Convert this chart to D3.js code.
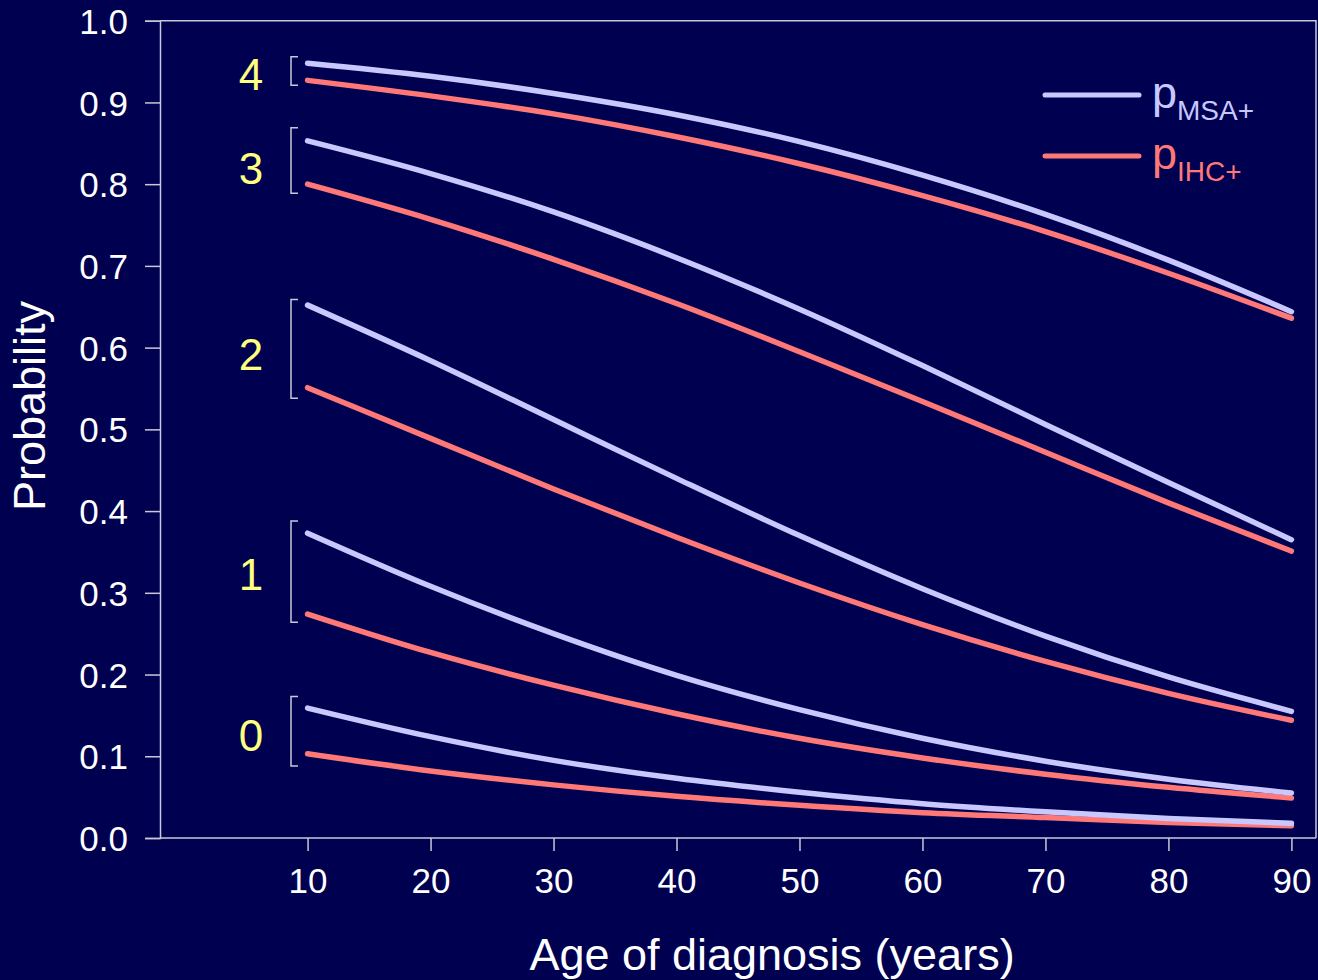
<!DOCTYPE html>
<html>
<head>
<meta charset="utf-8">
<script src="https://cdn.jsdelivr.net/npm/d3@7"></script>
<style>
  html, body { margin: 0; padding: 0; background: #000050; }
  svg { display: block; }
  text { font-family: Arial, "Liberation Sans", sans-serif; }
</style>
</head>
<body>
<svg id="chart" width="1318" height="980"></svg>
<script>
// ---- data ----
const ages = [10, 20, 30, 40, 50, 60, 70, 80, 90];
const groups = ["0", "1", "2", "3", "4"];
const msa0 = [0.159, 0.124, 0.095, 0.073, 0.056, 0.042, 0.032, 0.024, 0.018];
const ihc0 = [0.103, 0.082, 0.065, 0.051, 0.040, 0.031, 0.025, 0.019, 0.015];
const msa1 = [0.373, 0.308, 0.250, 0.199, 0.157, 0.122, 0.094, 0.072, 0.055];
const ihc1 = [0.274, 0.227, 0.187, 0.152, 0.122, 0.098, 0.078, 0.062, 0.049];
const msa2 = [0.652, 0.584, 0.512, 0.440, 0.370, 0.305, 0.247, 0.197, 0.155];
const ihc2 = [0.551, 0.489, 0.427, 0.368, 0.312, 0.261, 0.216, 0.177, 0.144];
const msa3 = [0.853, 0.813, 0.766, 0.710, 0.647, 0.578, 0.506, 0.435, 0.365];
const ihc3 = [0.800, 0.757, 0.708, 0.654, 0.595, 0.534, 0.472, 0.410, 0.351];
const msa4 = [0.948, 0.932, 0.911, 0.885, 0.852, 0.811, 0.763, 0.707, 0.644];
const ihc4 = [0.927, 0.908, 0.886, 0.858, 0.825, 0.786, 0.742, 0.691, 0.636];
const bracketTop = [0.173, 0.388, 0.659, 0.869, 0.956];
const bracketBottom = [0.088, 0.264, 0.538, 0.789, 0.921];
const groupLabelAt = [0.126, 0.323, 0.592, 0.820, 0.935];
const xTicks = [10, 20, 30, 40, 50, 60, 70, 80, 90];
const yTicks = [0, 0.1, 0.2, 0.3, 0.4, 0.5, 0.6, 0.7, 0.8, 0.9, 1.0];
const seriesNames = ["MSA+", "IHC+"];

const msaSeries = [msa0, msa1, msa2, msa3, msa4];
const ihcSeries = [ihc0, ihc1, ihc2, ihc3, ihc4];

// ---- styling ----
const colMSA = "#c8c8ff";
const colIHC = "#ff7878";
const colAxis = "#c8c8d8";
const colLabel = "#ffff80";

const svg = d3.select("#chart");
svg.append("rect").attr("width", 1318).attr("height", 980).attr("fill", "#000050");

const L = 160, R = 1316, T = 20.7, B = 838;
const x = d3.scaleLinear().domain([-2, 92]).range([L, R]);
const y = d3.scaleLinear().domain([0, 1]).range([B, T]);

// plot box (top & right)
svg.append("path")
  .attr("d", `M${L},${T}H${R}V${B}`)
  .attr("fill", "none").attr("stroke", colAxis).attr("stroke-width", 1.5);

// y axis
const yAxis = svg.append("g").attr("transform", `translate(${L},0)`)
  .call(d3.axisLeft(y).tickValues(yTicks).tickFormat(d3.format(".1f")).tickSize(15).tickPadding(17));
yAxis.select(".domain").attr("stroke", colAxis).attr("stroke-width", 1.5);
yAxis.selectAll(".tick line").attr("stroke", colAxis).attr("stroke-width", 1.5);
yAxis.selectAll(".tick text").attr("fill", "#ffffff").attr("font-size", 35)
  .attr("font-family", "Arial, 'Liberation Sans', sans-serif").attr("dy", "0.36em");

// x axis
const xAxis = svg.append("g").attr("transform", `translate(0,${B})`)
  .call(d3.axisBottom(x).tickValues(xTicks).tickFormat(d3.format("d")).tickSize(13).tickPadding(17));
xAxis.select(".domain").attr("d", `M${L},0H${R}`).attr("stroke", colAxis).attr("stroke-width", 1.5);
xAxis.selectAll(".tick line").attr("stroke", colAxis).attr("stroke-width", 1.5);
xAxis.selectAll(".tick text").attr("fill", "#ffffff").attr("font-size", 35)
  .attr("font-family", "Arial, 'Liberation Sans', sans-serif").attr("dy", "0.71em");

// axis titles
svg.append("text").attr("x", 772).attr("y", 970).attr("text-anchor", "middle")
  .attr("fill", "#ffffff").attr("font-size", 45).text("Age of diagnosis (years)");
svg.append("text").attr("transform", "translate(45,406) rotate(-90)").attr("text-anchor", "middle")
  .attr("fill", "#ffffff").attr("font-size", 45).text("Probability");

// curves
const line = d3.line().x((d, i) => x(ages[i])).y(d => y(d)).curve(d3.curveMonotoneX);
const curves = svg.append("g");
groups.forEach((g, gi) => {
  curves.append("path").datum(ihcSeries[gi]).attr("d", line)
    .attr("fill", "none").attr("stroke", colIHC).attr("stroke-width", 5.5)
    .attr("stroke-linecap", "round").attr("stroke-linejoin", "round");
  curves.append("path").datum(msaSeries[gi]).attr("d", line)
    .attr("fill", "none").attr("stroke", colMSA).attr("stroke-width", 5.5)
    .attr("stroke-linecap", "round").attr("stroke-linejoin", "round");
});

// brackets and group labels
const bx = 291, bw = 7;
groups.forEach((g, gi) => {
  const yt = y(bracketTop[gi]), yb = y(bracketBottom[gi]);
  svg.append("path")
    .attr("d", `M${bx + bw},${yt}H${bx}V${yb}H${bx + bw}`)
    .attr("fill", "none").attr("stroke", colAxis).attr("stroke-width", 1.5);
  svg.append("text").attr("x", 251).attr("y", y(groupLabelAt[gi])).attr("dy", "0.36em")
    .attr("text-anchor", "middle").attr("fill", colLabel).attr("font-size", 44).text(g);
});

// legend
const legend = svg.append("g");
const legendRows = [{ name: seriesNames[0], color: colMSA, ly: 95 }, { name: seriesNames[1], color: colIHC, ly: 156 }];
legendRows.forEach(r => {
  legend.append("line").attr("x1", 1045).attr("x2", 1139).attr("y1", r.ly).attr("y2", r.ly)
    .attr("stroke", r.color).attr("stroke-width", 5).attr("stroke-linecap", "round");
  const t = legend.append("text").attr("x", 1152).attr("y", r.ly + 13).attr("fill", r.color).attr("font-size", 45);
  t.append("tspan").text("p");
  t.append("tspan").attr("font-size", 28).attr("dy", 12).text(r.name);
});
</script>
</body>
</html>
